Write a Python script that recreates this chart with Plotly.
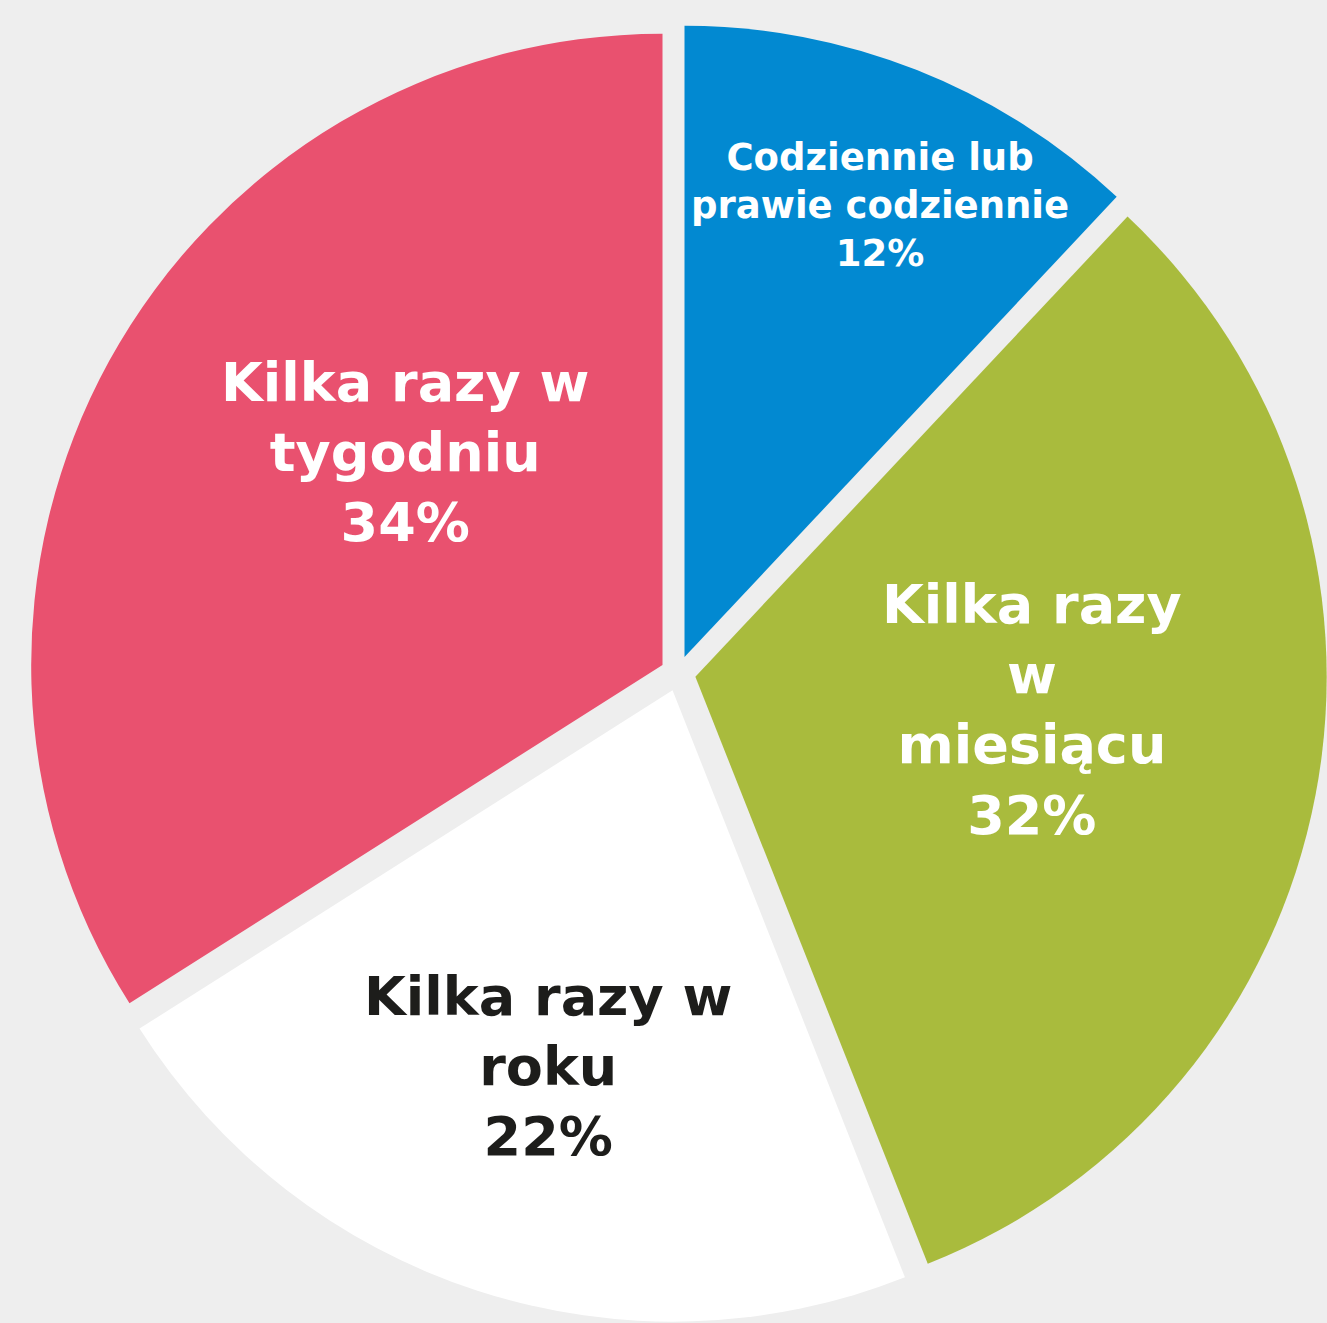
import plotly.graph_objects as go

# Dane
kategorie = [
    "Codziennie lub prawie codziennie",
    "Kilka razy w miesiącu",
    "Kilka razy w roku",
    "Kilka razy w tygodniu",
]
etykiety = [
    "Codziennie lub<br>prawie codziennie",
    "Kilka razy<br>w<br>miesiącu",
    "Kilka razy w<br>roku",
    "Kilka razy w<br>tygodniu",
]
procenty = [12, 32, 22, 34]

# Styl
KOLORY = ["#0289d1", "#a9bb3d", "#ffffff", "#e9516f"]
KOLORY_TEKSTU = ["#ffffff", "#ffffff", "#1d1d1b", "#ffffff"]
ROZMIARY = [37, 54, 54, 54]
TLO = "#eeeeee"
W, H = 1327, 1323

# pozycje etykiet (piksele strony)
POZ_X = [880, 1032, 548, 405]
POZ_Y = [206, 710, 1066, 453]

fig = go.Figure()
fig.add_pie(
    labels=kategorie,
    values=procenty,
    textinfo="none",
    sort=False,
    direction="clockwise",
    rotation=0,
    pull=[0.028] * 4,
    marker=dict(colors=KOLORY, line=dict(width=0)),
    domain=dict(x=[29 / W, 1], y=[0, 1 - 24 / H]),
    hoverinfo="label+percent",
)

for tekst, p, kol, rozm, px_, py_ in zip(etykiety, procenty, KOLORY_TEKSTU,
                                          ROZMIARY, POZ_X, POZ_Y):
    fig.add_annotation(
        x=px_ / W, y=1 - py_ / H, xref="paper", yref="paper",
        xanchor="center", yanchor="middle",
        text=f"{tekst}<br>{p}%",
        showarrow=False,
        align="center",
        font=dict(family="DejaVu Sans, sans-serif", size=rozm, color=kol,
                  weight="bold"),
    )

fig.update_layout(
    width=W,
    height=H,
    margin=dict(l=0, r=0, t=0, b=0),
    paper_bgcolor=TLO,
    plot_bgcolor=TLO,
    showlegend=False,
)
fig.write_html(
    "out.html",
    config={"displayModeBar": False},
    post_script=(
        "document.body.style.margin='0px';"
        f"document.body.style.background='{TLO}';"
    ),
)
